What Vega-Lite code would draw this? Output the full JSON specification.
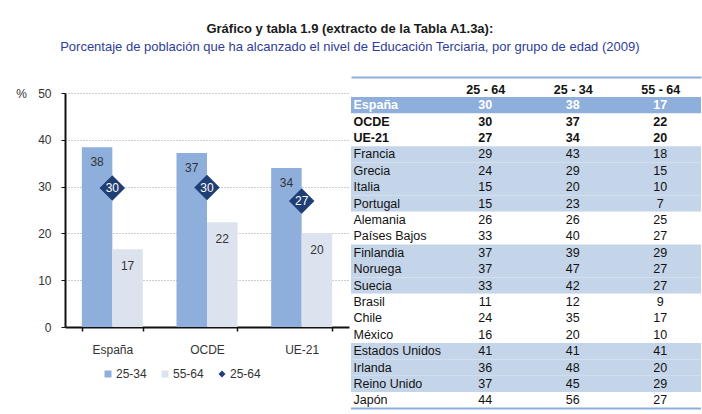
{
  "$schema": "https://vega.github.io/schema/vega-lite/v6.json",
  "padding": {"left": 15, "top": 23, "right": 2, "bottom": 0},
  "background": "white",
  "bounds": "flush",
  "spacing": 2,
  "resolve": {
    "scale": {"color": "independent", "shape": "independent"},
    "legend": {"color": "independent", "shape": "independent"}
  },
  "title": {
    "text": "Gráfico y tabla 1.9 (extracto de la Tabla A1.3a):",
    "subtitle": "Porcentaje de población que ha alcanzado el nivel de Educación Terciaria, por grupo de edad (2009)",
    "font": "Liberation Sans",
    "fontSize": 13,
    "fontWeight": "bold",
    "color": "#1a1a1a",
    "subtitleFont": "Liberation Sans",
    "subtitleFontSize": 13,
    "subtitleColor": "#2E3D98",
    "subtitlePadding": 5,
    "anchor": "middle",
    "dx": -9,
    "offset": 23
  },
  "config": {
    "view": {"stroke": null},
    "font": "Liberation Sans",
    "axis": {"labelFont": "Liberation Sans", "titleFont": "Liberation Sans"}
  },
  "hconcat": [
    {
      "width": 284,
      "height": 234,
      "data": {
        "values": [
          {"pais": "España", "grupo": "25-34", "valor": 38.4},
          {"pais": "España", "grupo": "55-64", "valor": 16.6},
          {"pais": "España", "grupo": "25-64", "valor": 29.7},
          {"pais": "OCDE", "grupo": "25-34", "valor": 37.2},
          {"pais": "OCDE", "grupo": "55-64", "valor": 22.4},
          {"pais": "OCDE", "grupo": "25-64", "valor": 29.8},
          {"pais": "UE-21", "grupo": "25-34", "valor": 34.0},
          {"pais": "UE-21", "grupo": "55-64", "valor": 20.1},
          {"pais": "UE-21", "grupo": "25-64", "valor": 26.9}
        ]
      },
      "encoding": {
        "x": {
          "field": "pais",
          "type": "nominal",
          "sort": null,
          "scale": {"domain": ["España", "OCDE", "UE-21"], "paddingInner": 0.356, "paddingOuter": 0.178},
          "axis": {
            "title": null,
            "labelAngle": 0,
            "tickBand": "extent",
            "domainColor": "#111",
            "domainWidth": 2,
            "tickColor": "#111",
            "tickWidth": 1.5,
            "tickSize": 4,
            "labelPadding": 13,
            "labelFontSize": 12,
            "labelColor": "#333",
            "grid": false
          }
        }
      },
      "layer": [
        {
          "transform": [{"filter": "datum.grupo != '25-64'"}],
          "mark": {"type": "bar"},
          "encoding": {
            "xOffset": {"field": "grupo", "type": "nominal", "scale": {"domain": ["25-34", "55-64"], "paddingInner": 0, "paddingOuter": 0}},
            "y": {
              "field": "valor",
              "type": "quantitative",
              "scale": {"domain": [0, 50]},
              "axis": {
                "title": "%",
                "titleAngle": 0,
                "titleX": -44,
                "titleY": 0,
                "titleAlign": "center",
                "titleBaseline": "middle",
                "titleFontWeight": "normal",
                "titleFontSize": 12,
                "titleColor": "#333",
                "values": [0, 10, 20, 30, 40, 50],
                "grid": true,
                "gridDash": [1, 2],
                "gridColor": "#9a9a9a",
                "domainColor": "#111",
                "domainWidth": 2,
                "tickColor": "#111",
                "tickSize": 4,
                "labelPadding": 10,
                "labelFontSize": 12,
                "labelColor": "#333"
              }
            },
            "color": {
              "field": "grupo",
              "type": "nominal",
              "scale": {"domain": ["25-34", "55-64", "25-64"], "range": ["#8EAEDC", "#DCE3EE", "#1F3E76"]},
              "legend": {
                "title": null,
                "orient": "none",
                "direction": "horizontal",
                "legendX": 37,
                "legendY": 275,
                "symbolSize": 49,
                "symbolType": "square",
                "symbolOpacity": 1,
                "labelFontSize": 12,
                "labelColor": "#333",
                "labelOffset": 2,
                "columnPadding": 12,
                "padding": 0
              }
            }
          }
        },
        {
          "transform": [{"filter": "datum.grupo == '25-34'"}],
          "mark": {"type": "text", "baseline": "middle", "dy": 15, "fontSize": 12, "color": "#333"},
          "encoding": {
            "xOffset": {"field": "grupo", "type": "nominal"},
            "y": {"field": "valor", "type": "quantitative"},
            "text": {"field": "valor", "type": "quantitative", "format": ".0f"}
          }
        },
        {
          "transform": [{"filter": "datum.grupo == '55-64'"}],
          "mark": {"type": "text", "baseline": "middle", "dy": 17, "fontSize": 12, "color": "#333"},
          "encoding": {
            "xOffset": {"field": "grupo", "type": "nominal"},
            "y": {"field": "valor", "type": "quantitative"},
            "text": {"field": "valor", "type": "quantitative", "format": ".0f"}
          }
        },
        {
          "transform": [{"filter": "datum.grupo == '25-64'"}],
          "mark": {"type": "point", "filled": true, "size": 650, "opacity": 1},
          "encoding": {
            "y": {"field": "valor", "type": "quantitative"},
            "color": {"field": "grupo", "type": "nominal"},
            "shape": {
              "field": "grupo",
              "type": "nominal",
              "scale": {"domain": ["25-34", "55-64", "25-64"], "range": ["square", "square", "diamond"]},
              "legend": {"title": null}
            }
          }
        },
        {
          "transform": [{"filter": "datum.grupo == '25-64'"}],
          "mark": {"type": "text", "baseline": "middle", "fontSize": 12, "color": "white"},
          "encoding": {
            "y": {"field": "valor", "type": "quantitative"},
            "text": {"field": "valor", "type": "quantitative", "format": ".0f"}
          }
        }
      ]
    },
    {
      "width": 350,
      "height": 319.6,
      "data": {
        "values": [
          {"pais": "España", "bloque": "España", "25 - 64": 30, "25 - 34": 38, "55 - 64": 17},
          {"pais": "OCDE", "bloque": "Promedios", "25 - 64": 30, "25 - 34": 37, "55 - 64": 22},
          {"pais": "UE-21", "bloque": "Promedios", "25 - 64": 27, "25 - 34": 34, "55 - 64": 20},
          {"pais": "Francia", "bloque": "Europa del Sur", "25 - 64": 29, "25 - 34": 43, "55 - 64": 18},
          {"pais": "Grecia", "bloque": "Europa del Sur", "25 - 64": 24, "25 - 34": 29, "55 - 64": 15},
          {"pais": "Italia", "bloque": "Europa del Sur", "25 - 64": 15, "25 - 34": 20, "55 - 64": 10},
          {"pais": "Portugal", "bloque": "Europa del Sur", "25 - 64": 15, "25 - 34": 23, "55 - 64": 7},
          {"pais": "Alemania", "bloque": "Europa central", "25 - 64": 26, "25 - 34": 26, "55 - 64": 25},
          {"pais": "Países Bajos", "bloque": "Europa central", "25 - 64": 33, "25 - 34": 40, "55 - 64": 27},
          {"pais": "Finlandia", "bloque": "Nórdicos", "25 - 64": 37, "25 - 34": 39, "55 - 64": 29},
          {"pais": "Noruega", "bloque": "Nórdicos", "25 - 64": 37, "25 - 34": 47, "55 - 64": 27},
          {"pais": "Suecia", "bloque": "Nórdicos", "25 - 64": 33, "25 - 34": 42, "55 - 64": 27},
          {"pais": "Brasil", "bloque": "Latinoamérica", "25 - 64": 11, "25 - 34": 12, "55 - 64": 9},
          {"pais": "Chile", "bloque": "Latinoamérica", "25 - 64": 24, "25 - 34": 35, "55 - 64": 17},
          {"pais": "México", "bloque": "Latinoamérica", "25 - 64": 16, "25 - 34": 20, "55 - 64": 10},
          {"pais": "Estados Unidos", "bloque": "Anglosajones", "25 - 64": 41, "25 - 34": 41, "55 - 64": 41},
          {"pais": "Irlanda", "bloque": "Anglosajones", "25 - 64": 36, "25 - 34": 48, "55 - 64": 20},
          {"pais": "Reino Unido", "bloque": "Anglosajones", "25 - 64": 37, "25 - 34": 45, "55 - 64": 29},
          {"pais": "Japón", "bloque": "Asia", "25 - 64": 44, "25 - 34": 56, "55 - 64": 27}
        ]
      },
      "layer": [
        {
          "mark": {"type": "rect"},
          "encoding": {
            "y": {
              "field": "pais",
              "type": "nominal",
              "scale": {
                "domain": ["España", "OCDE", "UE-21", "Francia", "Grecia", "Italia", "Portugal", "Alemania", "Países Bajos", "Finlandia", "Noruega", "Suecia", "Brasil", "Chile", "México", "Estados Unidos", "Irlanda", "Reino Unido", "Japón"],
                "paddingInner": 0,
                "paddingOuter": 0.244
              },
              "axis": {
                "orient": "left",
                "title": null,
                "domain": false,
                "ticks": false,
                "tickSize": 0,
                "grid": false,
                "labelAlign": "left",
                "labelBaseline": "middle",
                "labelPadding": -2,
                "labelFont": "Liberation Sans",
                "labelFontSize": 12.5,
                "labelColor": {"condition": {"test": "datum.value == 'España'", "value": "white"}, "value": "#111"},
                "labelFontWeight": {"condition": {"test": "datum.value == 'España' || datum.value == 'OCDE' || datum.value == 'UE-21'", "value": "bold"}, "value": "normal"},
                "zindex": 2
              }
            },
            "fill": {
              "field": "bloque",
              "type": "nominal",
              "scale": {
                "domain": ["España", "Promedios", "Europa del Sur", "Europa central", "Nórdicos", "Latinoamérica", "Anglosajones", "Asia"],
                "range": ["#8EAEDC", "#FFFFFF", "#C5D5E9", "#FFFFFF", "#C5D5E9", "#FFFFFF", "#C5D5E9", "#FFFFFF"]
              },
              "legend": null
            }
          }
        },
        {
          "transform": [{"filter": "datum.pais == 'Japón'"}],
          "mark": {"type": "rule", "color": "#8EAEDC", "strokeWidth": 2},
          "encoding": {
            "y": {"field": "pais", "type": "nominal", "bandPosition": 1}
          }
        },
        {
          "transform": [{"fold": ["25 - 64", "25 - 34", "55 - 64"], "as": ["columna", "valor"]}],
          "encoding": {
            "x": {
              "field": "columna",
              "type": "nominal",
              "sort": null,
              "scale": {"type": "point", "domain": ["25 - 64", "25 - 34", "55 - 64"], "padding": 1.059, "align": 0.767},
              "axis": {
                "orient": "top",
                "title": null,
                "offset": 16,
                "domainColor": "#8EAEDC",
                "domainWidth": 2,
                "ticks": false,
                "tickSize": 0,
                "grid": false,
                "labelAngle": 0,
                "labelPadding": -12,
                "labelBaseline": "middle",
                "labelFont": "Liberation Sans",
                "labelFontSize": 12.5,
                "labelFontWeight": "bold",
                "labelColor": "#111"
              }
            },
            "y": {"field": "pais", "type": "nominal"},
            "text": {"field": "valor", "type": "quantitative"}
          },
          "layer": [
            {
              "transform": [{"filter": "datum.pais != 'España' && datum.pais != 'OCDE' && datum.pais != 'UE-21'"}],
              "mark": {"type": "text", "font": "Liberation Sans", "fontSize": 12.5, "color": "#111", "baseline": "middle"}
            },
            {
              "transform": [{"filter": "datum.pais == 'OCDE' || datum.pais == 'UE-21'"}],
              "mark": {"type": "text", "font": "Liberation Sans", "fontSize": 12.5, "fontWeight": "bold", "color": "#111", "baseline": "middle"}
            },
            {
              "transform": [{"filter": "datum.pais == 'España'"}],
              "mark": {"type": "text", "font": "Liberation Sans", "fontSize": 12.5, "fontWeight": "bold", "color": "white", "baseline": "middle"}
            }
          ]
        }
      ]
    }
  ]
}
